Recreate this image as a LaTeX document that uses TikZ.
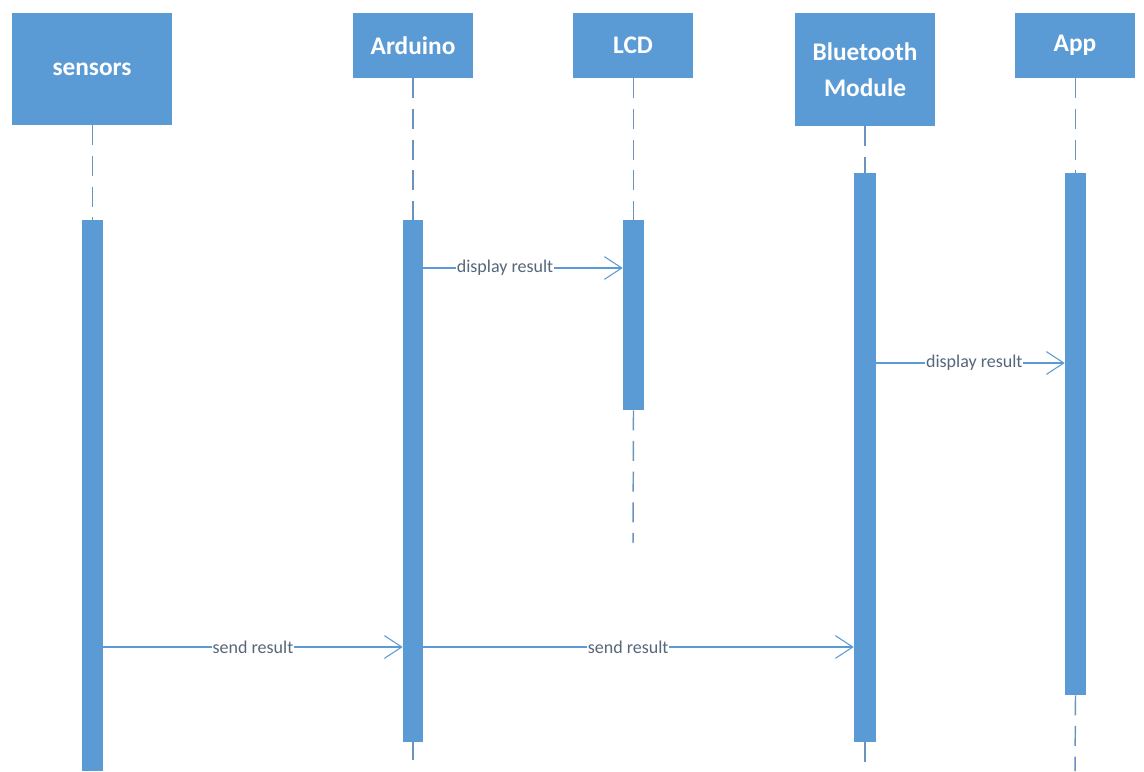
\documentclass[tikz,border=0pt]{standalone}
\usepackage{fontspec}
\setmainfont{Carlito}
\usetikzlibrary{arrows.meta,fit}
\definecolor{boxblue}{HTML}{5B9BD5}
\definecolor{lifeblue}{HTML}{6A94BE}
\definecolor{labgray}{HTML}{55677A}
\begin{document}
\begin{tikzpicture}[x=0.75pt,y=-0.75pt,
  hbox/.style={fill=boxblue, draw=none, inner sep=0pt},
  htext/.style={text=white, font=\fontsize{19}{27}\selectfont\bfseries, align=center, inner sep=0pt},
  actbar/.style={fill=boxblue, draw=none, inner sep=0pt},
  life/.style={draw=lifeblue, line width=1.1pt, dash pattern=on 15pt off 8pt},
  msg/.style={draw=boxblue, line width=0.8pt, -{Straight Barb[length=13pt,width=17pt,line width=0.8pt]}},
  mlabel/.style={fill=white, text=labgray, font=\fontsize{13.5}{15}\selectfont, inner sep=0.5pt}]
\useasboundingbox (0,0) rectangle (1144,771);
% header boxes
\node[hbox, fit={(12,13) (172,125)}] (s) {};
\node[htext] at (s.center) {sensors};
\node[hbox, fit={(353,13) (473,78)}] (a) {};
\node[htext] at (a.center) {Arduino};
\node[hbox, fit={(573,13) (693,78)}] (l) {};
\node[htext] at (l.center) {LCD};
\node[hbox, fit={(795,13) (935,126)}] (b) {};
\node[htext] at (b.center) {Bluetooth\\Module};
\node[hbox, fit={(1015,13) (1135,78)}] (p) {};
\node[htext] at (p.center) {App};
% activation bars
\node[actbar, fit={(82,220) (103,771)}] (sb) {};
\node[actbar, fit={(403,220) (423,742)}] (ab) {};
\node[actbar, fit={(623,220) (644,410)}] (lb) {};
\node[actbar, fit={(854,173) (876,742)}] (bb) {};
\node[actbar, fit={(1065,173) (1086,695)}] (pb) {};
% lifeline ends
\coordinate (aend) at (413,760);
\coordinate (lend) at (633,543);
\coordinate (bend) at (865,771);
\coordinate (pend) at (1075,771);
% lifelines
\draw[life] (s.south -| sb.north) -- (sb.north);
\draw[life] (a.south -| ab.north) -- (ab.north);
\draw[life] (ab.south) -- (aend);
\draw[life] (l.south -| lb.north) -- (lb.north);
\draw[life] (lb.south) -- (lend);
\draw[life] (b.south -| bb.north) -- (bb.north);
\draw[life] (bb.south) -- (bend);
\draw[life] (p.south -| pb.north) -- (pb.north);
\draw[life] (pb.south) -- (pend);
% messages
\coordinate (m1) at (0,268);
\coordinate (m2) at (0,363);
\coordinate (m3) at (0,647);
\draw[msg] (ab.east |- m1) -- node[mlabel, pos=0.41] {display result} (lb.west |- m1);
\draw[msg] (bb.east |- m2) -- node[mlabel, pos=0.52] {display result} (pb.west |- m2);
\draw[msg] (sb.east |- m3) -- node[mlabel, pos=0.5] {send result} (ab.west |- m3);
\draw[msg] (ab.east |- m3) -- node[mlabel, pos=0.476] {send result} (bb.west |- m3);
\end{tikzpicture}
\end{document}
